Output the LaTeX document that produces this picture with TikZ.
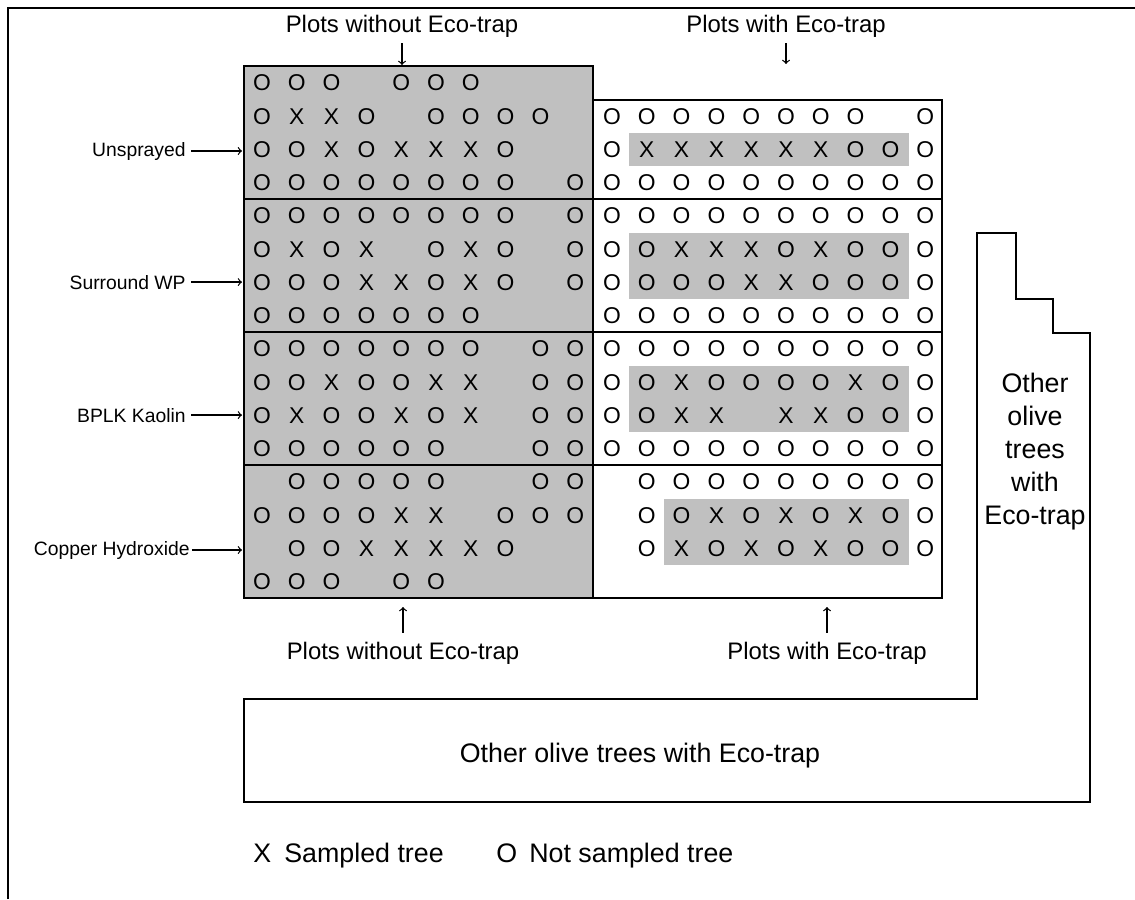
\documentclass[tikz,border=0pt]{standalone}
\usepackage{fontspec}
\setmainfont{Liberation Sans}
\usetikzlibrary{arrows}
\definecolor{plotgray}{RGB}{192,192,192}
\tikzset{
  plotline/.style={line width=1.13pt},
  tree/.style={inner sep=0pt, font=\fontsize{13}{15}\selectfont},
  rowlabel/.style={anchor=base east, inner sep=0pt, font=\fontsize{11}{13}\selectfont},
  plotlabel/.style={anchor=base, inner sep=0pt, font=\fontsize{13.6}{16}\selectfont},
  keylabel/.style={anchor=base west, inner sep=0pt, font=\fontsize{15.25}{18.7}\selectfont},
  plotarrow/.style={-to, line width=0.7pt}
}

\begin{document}
\begin{tikzpicture}[x=0.02cm, y=-0.02cm]
                      \useasboundingbox (0,0) rectangle (1135,899);
                      % Outer frame
                      \draw[plotline] (8,899) -- (8,8) -- (1135,8);

                      % Plots without Eco-trap
                      \filldraw[plotline, fill=plotgray] (244,66) rectangle (593,598);
                      % Sampled strips inside plots with Eco-trap
                      \fill[plotgray] (629.4,133) rectangle (908.8,166);
                      \fill[plotgray] (629.4,233) rectangle (908.8,299);
                      \fill[plotgray] (629.4,366) rectangle (908.8,432);
                      \fill[plotgray] (664.2,499) rectangle (908.8,565);
                      % Plots with Eco-trap
                      \draw[plotline] (593,100) rectangle (942,598);
                      \foreach \y in {199,332,465}
                          {
                              \draw[plotline] (244,\y) -- (942,\y);
                          }

                      % Trees, left half
                      \foreach \treerow [count=\i from 0] in {
                          {O,O,O,.,O,O,O,.,.,.},{O,X,X,O,.,O,O,O,O,.},{O,O,X,O,X,X,X,O,.,.},{O,O,O,O,O,O,O,O,.,O},
                          {O,O,O,O,O,O,O,O,.,O},{O,X,O,X,.,O,X,O,.,O},{O,O,O,X,X,O,X,O,.,O},{O,O,O,O,O,O,O,.,.,.},
                          {O,O,O,O,O,O,O,.,O,O},{O,O,X,O,O,X,X,.,O,O},{O,X,O,O,X,O,X,.,O,O},{O,O,O,O,O,O,.,.,O,O},
                          {.,O,O,O,O,O,.,.,O,O},{O,O,O,O,X,X,.,O,O,O},{.,O,O,X,X,X,X,O,.,.},{O,O,O,.,O,O,.,.,.,.}}
                          {
                              \pgfmathsetmacro\y{83+133*floor(\i/4)+33.25*mod(\i,4)}
                              \foreach \cell [count=\k from 0] in \treerow
                                  {
                                      \if\cell.\else
                                          \node[tree] (L-\i-\k) at ({262+34.8*\k},\y) {\cell};
                                      \fi
                                  }
                          }
                      % Trees, right half
                      \foreach \treerow [count=\i from 0] in {
                          {.,.,.,.,.,.,.,.,.,.},{O,O,O,O,O,O,O,O,.,O},{O,X,X,X,X,X,X,O,O,O},{O,O,O,O,O,O,O,O,O,O},
                          {O,O,O,O,O,O,O,O,O,O},{O,O,X,X,X,O,X,O,O,O},{O,O,O,O,X,X,O,O,O,O},{O,O,O,O,O,O,O,O,O,O},
                          {O,O,O,O,O,O,O,O,O,O},{O,O,X,O,O,O,O,X,O,O},{O,O,X,X,.,X,X,O,O,O},{O,O,O,O,O,O,O,O,O,O},
                          {.,O,O,O,O,O,O,O,O,O},{.,O,O,X,O,X,O,X,O,O},{.,O,X,O,X,O,X,O,O,O},{.,.,.,.,.,.,.,.,.,.}}
                          {
                              \pgfmathsetmacro\y{83+133*floor(\i/4)+33.25*mod(\i,4)}
                              \foreach \cell [count=\k from 0] in \treerow
                                  {
                                      \if\cell.\else
                                          \node[tree] (R-\i-\k) at ({612+34.8*\k},\y) {\cell};
                                      \fi
                                  }
                          }

                      % Treatments
                      \coordinate (noTrapEdge) at (242,0);
                      \node[rowlabel] (unsprayed) at (186,156) {Unsprayed};
                      \node[rowlabel] (surround) at (186,289) {Surround WP};
                      \node[rowlabel] (kaolin) at (186,422) {BPLK Kaolin};
                      \node[rowlabel] (copper) at (190,555) {Copper Hydroxide};
                      \foreach \treat in {unsprayed,surround,kaolin}
                          {
                              \draw[plotarrow, shorten <=3pt] (\treat.east) -- (\treat.east -| noTrapEdge);
                          }
                      \draw[plotarrow, shorten <=1pt] (copper.east) -- (copper.east -| noTrapEdge);

                      % Plot labels
                      \node[plotlabel] (topNoTrap) at (402,32) {Plots without Eco-trap};
                      \node[plotlabel] (topTrap) at (786,32) {Plots with Eco-trap};
                      \node[plotlabel] (botNoTrap) at (403,659) {Plots without Eco-trap};
                      \node[plotlabel] (botTrap) at (827,659) {Plots with Eco-trap};
                      \coordinate (topNoTrapEnd) at (402,65);
                      \coordinate (topTrapEnd) at (786,64);
                      \coordinate (botNoTrapEnd) at (403,607);
                      \coordinate (botTrapEnd) at (827,607);
                      \draw[plotarrow, shorten <=3.4pt] (topNoTrap.south) -- (topNoTrapEnd);
                      \draw[plotarrow, shorten <=3.4pt] (topTrap.south) -- (topTrapEnd);
                      \draw[plotarrow, shorten <=4.8pt] (botNoTrap.north) -- (botNoTrapEnd);
                      \draw[plotarrow, shorten <=4.8pt] (botTrap.north) -- (botTrapEnd);

                      % Other olive trees with Eco-trap
                      \draw[plotline] (244,699) -- (977,699) -- (977,233) -- (1016,233) -- (1016,299)
                          -- (1053,299) -- (1053,333) -- (1090,333) -- (1090,802) -- (244,802) -- cycle;
                      \node[keylabel, anchor=base] (otherTrees) at (640,762) {Other olive trees with Eco-trap};
                      \node[keylabel, anchor=north, align=center] (otherSide) at (1035,373) {Other\\olive\\trees\\with\\Eco-trap};

                      % Key
                      \node[keylabel] (keyX) at (253,862) {X};
                      \node[keylabel] (keyXText) at (284,862) {Sampled tree};
                      \node[keylabel] (keyO) at (496,862) {O};
                      \node[keylabel] (keyOText) at (529,862) {Not sampled tree};
                  \end{tikzpicture}
\end{document}
